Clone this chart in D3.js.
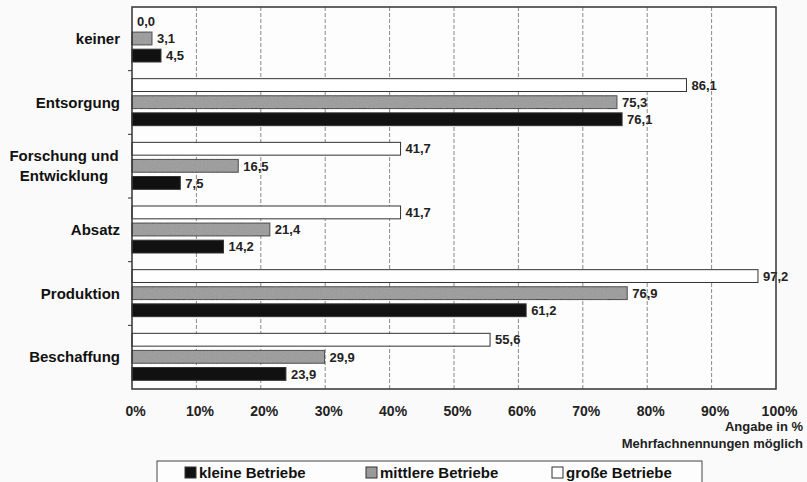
<!DOCTYPE html>
<html lang="de">
<head>
<meta charset="UTF-8">
<title>Betriebe nach Bereichen</title>
<script src="https://d3js.org/d3.v7.min.js"></script>
<style>
    body { margin: 0; background: #fafafa; font-family: Arial, "Liberation Sans", sans-serif; }
    .cat { font-weight: bold; font-size: 15px; fill: #111; }
    .val { font-weight: bold; font-size: 13px; fill: #222; }
    .tick text { font-weight: bold; font-size: 14px; fill: #222; }
    .note { font-weight: bold; font-size: 13px; fill: #222; }
    .leg { font-weight: bold; font-size: 15px; fill: #111; }
</style>
</head>
<body>
<svg id="chart" width="807" height="482"></svg>
<script>
// Kategorien von oben nach unten
var categories = ["keiner", "Entsorgung", "Forschung und\nEntwicklung", "Absatz", "Produktion", "Beschaffung"];
var seriesNames = ["große Betriebe", "mittlere Betriebe", "kleine Betriebe"];
var grosse   = [0.0, 86.1, 41.7, 41.7, 97.2, 55.6];
var mittlere = [3.1, 75.3, 16.5, 21.4, 76.9, 29.9];
var kleine   = [4.5, 76.1, 7.5, 14.2, 61.2, 23.9];
var xTicks = [0, 10, 20, 30, 40, 50, 60, 70, 80, 90, 100];

var series = [grosse, mittlere, kleine];
var fills = ["#ffffff", "#9a9a9a", "#111111"];

var svg = d3.select("#chart");
// note: "top" is reserved on window, so use plot* names
var plotL = 132, plotR = 776, plotT = 7, plotB = 389;

// grain for the gray bars, like the scan
var defs = svg.append("defs");
var f = defs.append("filter").attr("id", "grain");
f.append("feTurbulence").attr("type", "fractalNoise").attr("baseFrequency", 0.9).attr("numOctaves", 1).attr("result", "n");
f.append("feColorMatrix").attr("in", "n").attr("type", "saturate").attr("values", 0).attr("result", "g");
f.append("feComponentTransfer").attr("in", "g").attr("result", "g2")
    .append("feFuncA").attr("type", "linear").attr("slope", 0.25);
f.append("feComposite").attr("in", "g2").attr("in2", "SourceGraphic").attr("operator", "in").attr("result", "g3");
var fm = f.append("feMerge");
fm.append("feMergeNode").attr("in", "SourceGraphic");
fm.append("feMergeNode").attr("in", "g3");

var x = d3.scaleLinear().domain([0, 100]).range([plotL, plotR]);
var y0 = d3.scaleBand().domain(d3.range(categories.length)).range([plotT, plotB]);
var y1 = d3.scaleBand().domain(d3.range(series.length)).range([8, 55]).paddingInner(0.25);

// plot background
svg.append("rect").attr("x", plotL).attr("y", plotT).attr("width", plotR - plotL).attr("height", plotB - plotT)
    .attr("fill", "#fdfdfd");

// vertical grid
svg.append("g").selectAll("line").data(xTicks.slice(1, -1)).enter().append("line")
    .attr("x1", function(d) { return x(d); }).attr("x2", function(d) { return x(d); })
    .attr("y1", plotT).attr("y2", plotB)
    .attr("stroke", "#8a8a8a").attr("stroke-width", 1).attr("stroke-dasharray", "4,2");

// bars
var groups = svg.append("g").selectAll("g").data(categories).enter().append("g")
    .attr("transform", function(d, i) { return "translate(0," + y0(i) + ")"; });

groups.each(function(c, i) {
    var g = d3.select(this);
    series.forEach(function(s, j) {
        if (s[i] > 0) {
            g.append("rect")
                .attr("x", x(0))
                .attr("y", y1(j))
                .attr("width", x(s[i]) - x(0))
                .attr("height", y1.bandwidth())
                .attr("fill", fills[j])
                .attr("stroke", "#333")
                .attr("stroke-width", 1)
                .attr("filter", j === 1 ? "url(#grain)" : null);
        }
        g.append("text")
            .attr("class", "val")
            .attr("x", x(s[i]) + 5)
            .attr("y", y1(j) + y1.bandwidth() / 2)
            .attr("dy", "0.36em")
            .text(d3.format(".1f")(s[i]).replace(".", ","));
    });
});

// plot frame
svg.append("rect").attr("x", plotL).attr("y", plotT).attr("width", plotR - plotL).attr("height", plotB - plotT)
    .attr("fill", "none").attr("stroke", "#333").attr("stroke-width", 1.5);

// category ticks on the left
svg.append("g").selectAll("line").data(d3.range(1, categories.length)).enter().append("line")
    .attr("x1", plotL - 4).attr("x2", plotL)
    .attr("y1", function(i) { return y0(i); }).attr("y2", function(i) { return y0(i); })
    .attr("stroke", "#333");

// category labels
svg.append("g").selectAll("text").data(categories).enter().append("text")
    .attr("class", "cat")
    .each(function(d, i) {
        var lines = d.split("\n");
        var t = d3.select(this);
        var cy = y0(i) + y0.bandwidth() / 2;
        if (lines.length === 1) {
            t.attr("x", 120).attr("y", cy).attr("dy", "0.35em").attr("text-anchor", "end").text(d);
        } else {
            t.attr("text-anchor", "middle");
            lines.forEach(function(l, k) {
                t.append("tspan").attr("x", 64).attr("y", cy + (k - (lines.length - 1) / 2) * 20)
                    .attr("dy", "0.35em").text(l);
            });
        }
    });

// x axis labels
var xAxis = d3.axisBottom(x).tickValues(xTicks).tickFormat(function(d) { return d + "%"; }).tickSize(0);
var ax = svg.append("g").attr("transform", "translate(3," + (plotB + 14) + ")").call(xAxis);
ax.select(".domain").remove();

svg.append("text").attr("class", "note").attr("x", 803).attr("y", 431).attr("text-anchor", "end").text("Angabe in %");
svg.append("text").attr("class", "note").attr("x", 803).attr("y", 448).attr("text-anchor", "end").text("Mehrfachnennungen möglich");

// legend
svg.append("rect").attr("x", 157).attr("y", 461).attr("width", 545).attr("height", 30)
    .attr("fill", "#fdfdfd").attr("stroke", "#444").attr("stroke-width", 1);
var legendOrder = [2, 1, 0];
var legX = [185, 366, 552];
var leg = svg.append("g").selectAll("g").data(legendOrder).enter().append("g")
    .attr("transform", function(d, k) { return "translate(" + legX[k] + ",467)"; });
leg.append("rect").attr("width", 11).attr("height", 11)
    .attr("fill", function(d) { return fills[d]; }).attr("stroke", "#333");
leg.append("text").attr("class", "leg").attr("x", 14).attr("y", 11)
    .text(function(d) { return seriesNames[d]; });
</script>
</body>
</html>
